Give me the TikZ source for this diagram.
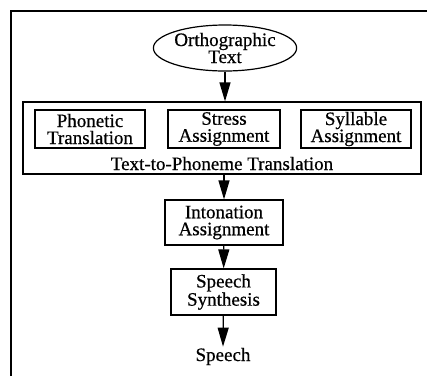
\documentclass[tikz,border=0pt]{standalone}
\usepackage{fontspec}
\setmainfont{Liberation Serif}[FakeBold = 0.6]
\usetikzlibrary{shapes.geometric,arrows.meta}

\tikzstyle{block} = [draw, text centered, align = center, inner sep = 0pt, line width = 1.2pt]
\tikzstyle{flow} = [-{Triangle[length = 19pt, width = 11pt]}, line width = 1.2pt]

\begin{document}
\begin{tikzpicture}[x = 1pt, y = -1pt, font = \fontsize{19}{17}\selectfont]
		\useasboundingbox (0, 0) rectangle (427, 376);
		% frame
		\draw [line width = 1.3pt] (11, 376) -- (11, 11) -- (427, 11);

		\node [block, ellipse, minimum width = 127pt, minimum height = 46pt] at (225, 48) (1) {Orthographic\\Text};
		\node [block, minimum width = 398pt, minimum height = 72pt] at (222, 138) (2) {};
		\node [block, minimum width = 110pt, minimum height = 38pt] at (90, 129) (3) {Phonetic\\Translation};
		\node [block, minimum width = 112pt, minimum height = 38pt] at (224, 129) (4) {Stress\\Assignment};
		\node [block, minimum width = 110pt, minimum height = 38pt] at (356, 129) (5) {Syllable\\Assignment};
		\node [anchor = base] at (222, 170) (6) {Text-to-Phoneme Translation};
		\node [block, minimum width = 118pt, minimum height = 45pt] at (224, 222.5) (7) {Intonation\\Assignment};
		\node [block, minimum width = 105pt, minimum height = 46pt] at (223.5, 292) (8) {Speech\\Synthesis};
		\node [anchor = base, inner sep = 0pt] at (223, 361) (9) {Speech};

		\draw [flow] (1) -- (1 |- 2.north);
		\draw [flow] (2.south -| 7) -- (7);
		\draw [flow] (7) -- (8);
		\draw [flow] (8) -- ([yshift = 1pt] 9.north);
	\end{tikzpicture}
\end{document}
